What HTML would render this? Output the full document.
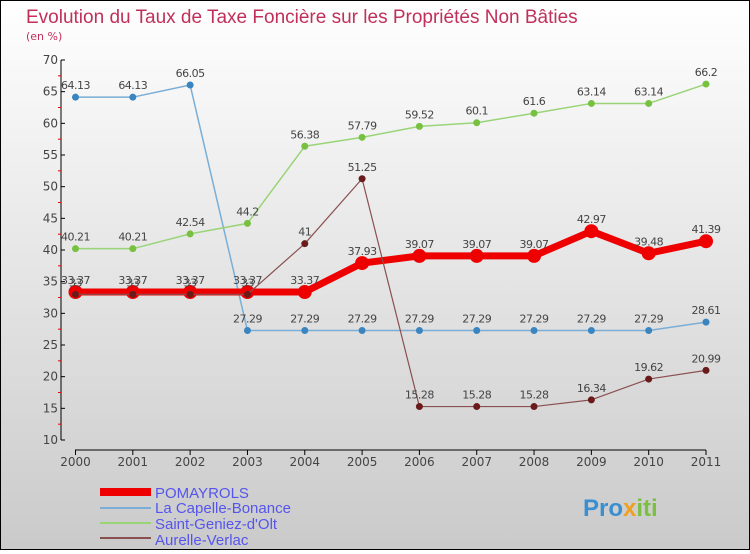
<!DOCTYPE html>
<html><head><meta charset="utf-8"><style>
html,body{margin:0;padding:0}
body{width:750px;height:550px;overflow:hidden;font-family:"DejaVu Sans","Liberation Sans",sans-serif}
</style></head><body>
<svg id="chart" width="750" height="550" xmlns="http://www.w3.org/2000/svg">
<defs><linearGradient id="bg" x1="0" y1="0" x2="0" y2="1"><stop offset="0" stop-color="#ffffff"/><stop offset="1" stop-color="#cacaca"/></linearGradient></defs>
<rect x="0.5" y="0.5" width="749" height="549" fill="url(#bg)" stroke="#000"/>
<text x="26" y="23" font-size="19" fill="#c0305a" font-family="Liberation Sans, sans-serif">Evolution du Taux de Taxe Foncière sur les Propriétés Non Bâties</text>
<text x="26" y="40" font-size="11" fill="#c0305a">(en %)</text>
<g id="axes"></g><g id="series"></g>
<g font-size="15" fill="#5555ee" font-family="Liberation Sans, sans-serif">
<line x1="100" y1="492" x2="151" y2="492" stroke="#ee0000" stroke-width="8"/><text x="155" y="498">POMAYROLS</text>
<line x1="100" y1="508" x2="151" y2="508" stroke="#7aaed6" stroke-width="2"/><text x="155" y="513">La Capelle-Bonance</text>
<line x1="100" y1="523" x2="151" y2="523" stroke="#99d477" stroke-width="2"/><text x="155" y="529">Saint-Geniez-d'Olt</text>
<line x1="100" y1="538" x2="151" y2="538" stroke="#8a5050" stroke-width="2"/><text x="155" y="545">Aurelle-Verlac</text>
</g>
<text x="583" y="516" font-size="24" font-weight="bold" fill="#3a8fd0" font-family="Liberation Sans, sans-serif">Pro<tspan fill="#f0a020">x</tspan><tspan fill="#7bc043">iti</tspan></text>
</svg>
<script>
const years=[2000,2001,2002,2003,2004,2005,2006,2007,2008,2009,2010,2011];
const yTicks=[10,15,20,25,30,35,40,45,50,55,60,65,70];
const pomayrols=[33.37,33.37,33.37,33.37,33.37,37.93,39.07,39.07,39.07,42.97,39.48,41.39];
const capelle=[64.13,64.13,66.05,27.29,27.29,27.29,27.29,27.29,27.29,27.29,27.29,28.61];
const geniez=[40.21,40.21,42.54,44.2,56.38,57.79,59.52,60.1,61.6,63.14,63.14,66.2];
const aurelle=[33,33,33,33,41,51.25,15.28,15.28,15.28,16.34,19.62,20.99];
const NS='http://www.w3.org/2000/svg';
const X=i=>75.5+i*(630.5/11);
const Y=v=>440-(v-10)*(380/60);
function mk(tag,attrs,parent,txt){const e=document.createElementNS(NS,tag);for(const k in attrs)e.setAttribute(k,attrs[k]);if(txt!==undefined)e.textContent=txt;parent.appendChild(e);return e;}
const ax=document.getElementById('axes');
let l=mk('line',{x1:61,y1:60,x2:61,y2:440,stroke:'#000'},ax);


l=mk('line',{x1:75,y1:450,x2:706,y2:450,stroke:'#000'},ax);


yTicks.forEach((v,i)=>{
  mk('line',{x1:61,y1:Y(v),x2:65,y2:Y(v),stroke:'#000'},ax);
  if(i<yTicks.length-1)mk('line',{x1:58,y1:Y(v+2.5),x2:61,y2:Y(v+2.5),stroke:'#e00'},ax);
  const t=mk('text',{x:58,y:Y(v)+4,'text-anchor':'end','font-size':12,fill:'#444'},ax,v);
  
  
});
years.forEach((y,i)=>{
  mk('line',{x1:X(i),y1:450,x2:X(i),y2:455,stroke:'#000'},ax);
  const t=mk('text',{x:X(i),y:466,'text-anchor':'middle','font-size':12,fill:'#444'},ax,y);
  
  
});
const sg=document.getElementById('series');
function series(name,vals,color,w,r,dot){
  const g=mk('g',{},sg);
  
  
  mk('polyline',{points:vals.map((v,i)=>X(i)+','+Y(v)).join(' '),fill:'none',stroke:color,'stroke-width':w,'stroke-linejoin':'round'},g);
  vals.forEach((v,i)=>{
    const c=mk('circle',{cx:X(i),cy:Y(v),r:r,fill:dot},g);
    
    
    const t=mk('text',{x:X(i),y:Y(v)-8,'text-anchor':'middle','font-size':11,fill:'#444','letter-spacing':'-0.5'},g,v);
    
    
  });
}
series('capelle-line',capelle,'#7aaed6',1.5,3.5,'#3a85c0');
series('geniez-line',geniez,'#99d477',1.5,3.5,'#77c040');
series('pomayrols-line',pomayrols,'#ee0000',7,7,'#ee0000');
series('aurelle-line',aurelle,'#8a5050',1.2,3.5,'#6a1a1a');
</script>
</body></html>
